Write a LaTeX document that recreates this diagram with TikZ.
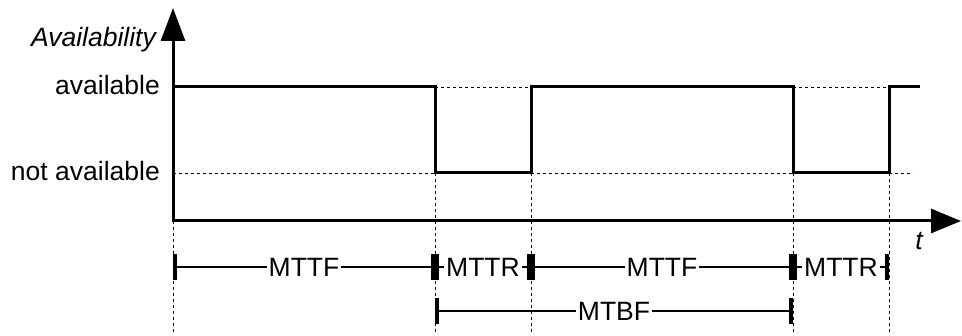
\documentclass[tikz,border=0pt]{standalone}
\usepackage{fontspec}
\setmainfont{Liberation Sans}
\usetikzlibrary{arrows.meta}

\tikzset{
  signal/.style={line width=3pt},
  axes/.style={line width=3pt,{Triangle[length=33pt,width=24pt]}-{Triangle[length=30pt,width=24pt]}},
  guide/.style={line width=0.8pt,dash pattern=on 3pt off 3pt},
  span/.style={line width=2pt,{Bar[width=26pt,line width=4pt]}-{Bar[width=26pt,line width=4pt]}},
  lbl/.style={fill=white,inner xsep=2pt,inner ysep=1pt},
  ylbl/.style={anchor=base east,inner sep=0pt}
}

\begin{document}
\begin{tikzpicture}[x=1pt,y=-1pt,font=\fontsize{26.5pt}{30pt}\selectfont]
  \useasboundingbox (0,0) rectangle (962,336);

  % time points: failure / repair instants
  \foreach \n/\x in {0/173,1/435,2/531,3/793,4/889} {
    \coordinate (up\n) at (\x,87);
    \coordinate (dn\n) at (\x,173);
    \coordinate (ax\n) at (\x,221);
    \coordinate (ra\n) at (\x,267);
    \coordinate (rb\n) at (\x,311);
    \coordinate (bt\n) at (\x,332);
  }
  \coordinate (ytop) at (173,8);
  \coordinate (xend) at (961,221);
  \coordinate (upend) at (920,87);
  \coordinate (dnend) at (913,173);

  % helper lines
  \begin{scope}[every path/.style={guide}]
    \draw (up1) -- (up2);
    \draw (up3) -- (up4);
    \draw (dn0) -- (dn1);
    \draw (dn2) -- (dn3);
    \draw (dn4) -- (dnend);
    \draw (ax0) -- (bt0);
    \foreach \n in {1,2,3,4}
      \draw (dn\n) -- (bt\n);
  \end{scope}

  % axes
  \draw[axes] (ytop) -- (ax0) -- (xend);
  \node[ylbl,font=\fontsize{26.5pt}{30pt}\selectfont\itshape] (yname) at (156,47) {Availability};
  \node[anchor=base,font=\fontsize{26.5pt}{30pt}\selectfont\itshape] (xname) at (919,250) {t};
  \node[ylbl] (avail) at (160,95) {available};
  \node[ylbl] (notavail) at (160,181) {not available};

  % state over time
  \draw[signal] (up0) -- (up1) -- (dn1) -- (dn2) -- (up2) -- (up3) -- (dn3) -- (dn4) -- (up4) -- (upend);

  % intervals
  \draw[span] (ra0) -- node[lbl] (mttf1) {MTTF} (ra1);
  \draw[span] (ra1) -- node[lbl] (mttr1) {MTTR} (ra2);
  \draw[span] (ra2) -- node[lbl] (mttf2) {MTTF} (ra3);
  \draw[span] (ra3) -- node[lbl] (mttr2) {MTTR} (ra4);
  \draw[span] (rb1) -- node[lbl] (mtbf) {MTBF} (rb3);

\end{tikzpicture}
\end{document}
